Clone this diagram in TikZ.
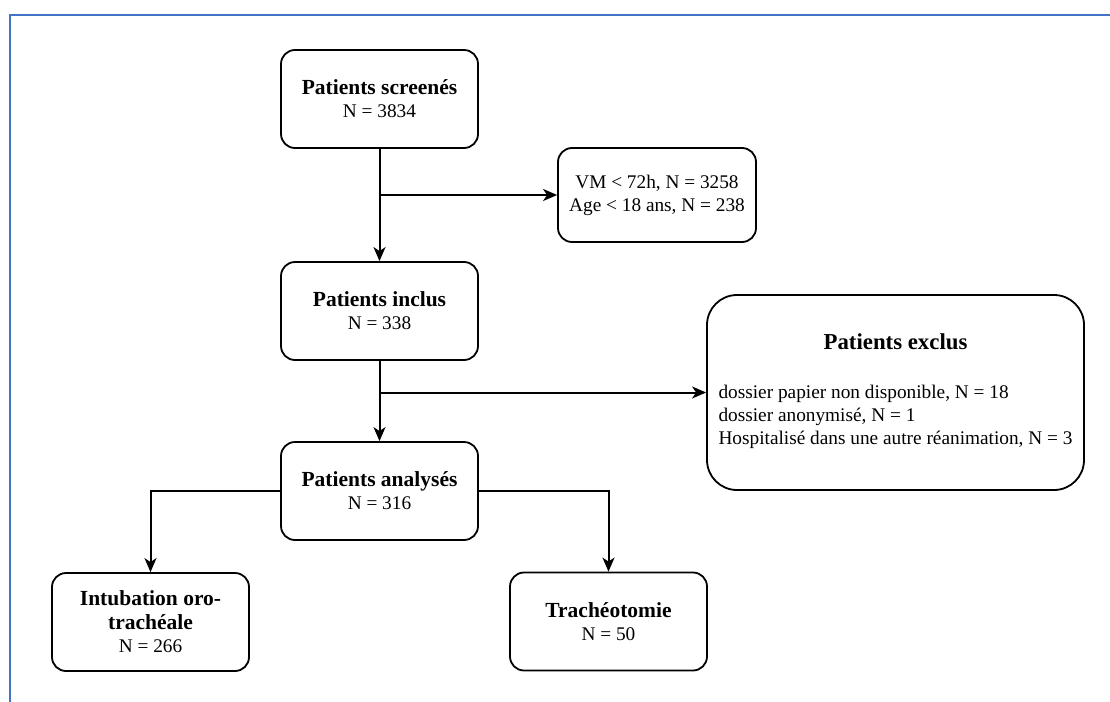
\documentclass[tikz,border=0pt]{standalone}
\usepackage{fontspec}
\setmainfont{Liberation Serif}
\usepackage{tikz}
\usetikzlibrary{calc,arrows.meta}
\definecolor{cadrebleu}{HTML}{4472C4}
\def\drawflow{\draw[line width=2pt,-{Stealth[length=14pt,width=12pt,inset=4pt]}]}
\def\etape{\node[draw,line width=1.8pt,rounded corners=14pt,align=center,inner sep=0pt,
  minimum width=197pt,minimum height=98pt,font=\fontsize{19.3}{23}\selectfont]}
\def\titre#1{{\fontsize{21.5}{24}\selectfont\bfseries #1}}

\begin{document}
\begin{tikzpicture}[x=1pt,y=-1pt]
\useasboundingbox (0,0) rectangle (1110,701);
% partial frame, top and left only
\draw[cadrebleu,line width=2.4pt] (10,705) -- (10,15) -- (1114,15);

% -------- main column ---------
\etape (screened) at (379.5,99) {\titre{Patients screenés}\\N = 3834};
\etape (inclus) at (379.5,311) {\titre{Patients inclus}\\N = 338};
\etape (analyses) at (379.5,491) {\titre{Patients analysés}\\N = 316};

% -------- exclusions ---------
\etape[minimum width=198pt,minimum height=94pt] (vm) at (657,195)
  {VM < 72h, N = 3258\\Age < 18 ans, N = 238};
\node[draw,line width=1.8pt,rounded corners=30pt,inner sep=0pt,
  minimum width=377pt,minimum height=195pt,font=\fontsize{19.3}{23}\selectfont]
  (exclus) at (895.5,392.5)
  {\begin{tabular}{@{}l@{}}
   \multicolumn{1}{@{}c@{}}{\fontsize{22.8}{24}\selectfont\bfseries Patients exclus}\\[26pt]
   dossier papier non disponible, N = 18\\
   dossier anonymisé, N = 1\\
   Hospitalisé dans une autre réanimation, N = 3
   \end{tabular}};

% -------- outcome boxes ---------
\etape (intub) at (150.5,622) {\titre{Intubation oro-}\\[1pt]\titre{trachéale}\\N = 266};
\etape (trach) at (608.5,621.5) {\titre{Trachéotomie}\\N = 50};

% connectors
\coordinate (fork1) at (screened.south |- vm.west);
\coordinate (fork2) at (inclus.south |- exclus.west);
\drawflow (screened) -- (inclus);
\drawflow (fork1) -- (vm.west);
\drawflow (inclus) -- (analyses);
\drawflow (fork2) -- (exclus.west);
\drawflow (analyses.west) -| (intub.north);
\drawflow (analyses.east) -| (trach.north);
\end{tikzpicture}
\end{document}
